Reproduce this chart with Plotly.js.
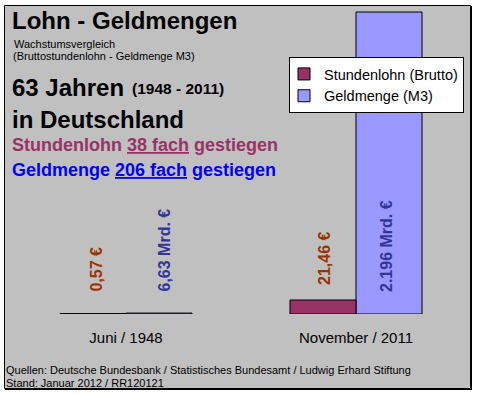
<!DOCTYPE html>
<html><head><meta charset="utf-8">
<script src="https://cdn.plot.ly/plotly-3.0.1.min.js"></script>
<style>html,body{margin:0;padding:0;background:#fff}</style>
</head><body><div id="chart" style="width:477px;height:395px"></div>
<script>
// ---- data ----
const categories = ["Juni / 1948", "November / 2011"];
const stundenlohn = [0.57, 21.46];          // € per hour
const geldmenge = [6.63, 2196];             // Mrd. €
const stundenlohnLabels = ["0,57 €", "21,46 €"];
const geldmengeLabels = ["6,63 Mrd. €", "2.196 Mrd. €"];
const seriesNames = ["Stundenlohn (Brutto)", "Geldmenge (M3)"];

// ---- geometry helpers (pixel -> paper) ----
const W = 477, H = 395;
const L = 11, R = 6, T = 10, B = 81;
const PW = W - L - R, PH = H - T - B;
const px = x => (x - L) / PW;
const py = y => (H - B - y) / PH;

const FONT = "Liberation Sans, Arial, sans-serif";
const barW = 0.287;

const traces = [
  {type: "bar", name: seriesNames[0], legendgroup: "s", x: categories, y: stundenlohn, yaxis: "y2",
   width: barW, offset: -barW,
   marker: {color: "#993366", line: {color: "#000", width: 1}},
   hoverinfo: "skip"},
  {type: "bar", name: seriesNames[1], legendgroup: "g", x: categories, y: geldmenge, yaxis: "y",
   width: barW, offset: 0,
   marker: {color: "#9999ff", line: {color: "#000", width: 1}},
   hoverinfo: "skip"}
];

// scale so bars use the plot height like the reference
const gMax = geldmenge[1] * PH / 302;
const sMax = stundenlohn[1] * PH / 14;

function txt(text, x, y, size, opts) {
  return Object.assign({xref: "paper", yref: "paper", x: px(x), y: py(y), text: text,
    showarrow: false, xanchor: "left", yanchor: "middle",
    font: {family: FONT, size: size, color: "#000"}}, opts || {});
}

const annotations = [
  txt("<b>Lohn - Geldmengen</b>", 10, 20.5, 24),
  txt("Wachstumsvergleich", 12, 43.5, 11),
  txt("(Bruttostundenlohn - Geldmenge M3)", 11, 56, 11),
  txt("<b>63 Jahren</b>", 10, 87, 24),
  txt("<b>(1948 - 2011)</b>", 130, 89, 15.5),
  txt("<b>in Deutschland</b>", 10, 119, 24),
  txt("<b>Stundenlohn <u>38 fach</u> gestiegen</b>", 10, 145, 18, {font: {family: FONT, size: 18, color: "#993366"}}),
  txt("<b>Geldmenge <u>206 fach</u> gestiegen</b>", 10, 170, 18, {font: {family: FONT, size: 18, color: "#0000ff"}}),
  txt("Quellen: Deutsche Bundesbank / Statistisches Bundesamt / Ludwig Erhard Stiftung", 4, 370, 11),
  txt("Stand: Januar 2012 / RR120121", 4, 383, 11)
];

// value labels (rotated)
const sLabY = [269.5, 258.5], gLabY = [250.5, 246.5];
const sShift = [-30, -31.5], gShift = [38, 30.5];
categories.forEach((c, i) => {
  annotations.push({xref: "x", yref: "paper", x: c, xshift: sShift[i], y: py(sLabY[i]),
    text: "<b>" + stundenlohnLabels[i] + "</b>", textangle: -90, showarrow: false,
    xanchor: "center", yanchor: "middle", font: {family: FONT, size: 16, color: "#993300"}});
  annotations.push({xref: "x", yref: "paper", x: c, xshift: gShift[i], y: py(gLabY[i]),
    text: "<b>" + geldmengeLabels[i] + "</b>", textangle: -90, showarrow: false,
    xanchor: "center", yanchor: "middle", font: {family: FONT, size: 16, color: "#333399"}});
});

const shapes = [
  {type: "rect", xref: "paper", yref: "paper", layer: "below",
   x0: px(4.5), x1: px(470.5), y0: py(5.5), y1: py(388.5),
   fillcolor: "#c0c0c0", line: {color: "#000", width: 1}},
  {type: "line", xref: "paper", yref: "paper", x0: px(471.5), x1: px(471.5), y0: py(6), y1: py(390),
   line: {color: "#000", width: 1}},
  {type: "line", xref: "paper", yref: "paper", x0: px(5), x1: px(472), y0: py(389.5), y1: py(389.5),
   line: {color: "#000", width: 1}}
];

const layout = {
  width: W, height: H,
  margin: {l: L, r: R, t: T, b: B, pad: 0, autoexpand: false},
  paper_bgcolor: "#ffffff", plot_bgcolor: "rgba(0,0,0,0)",
  barmode: "group",
  showlegend: true,
  legend: {x: px(289), y: py(57), xanchor: "left", yanchor: "top",
    bgcolor: "#ffffff", bordercolor: "#000", borderwidth: 1, indentation: -6,
    tracegroupgap: 5,
    font: {family: FONT, size: 14.5, color: "#000"}, traceorder: "normal"},
  xaxis: {type: "category", range: [-0.5, 1.5], showgrid: false, zeroline: false,
    showline: false, ticks: "", ticklabelstandoff: 13,
    tickfont: {family: FONT, size: 15, color: "#000"}, fixedrange: true},
  yaxis: {range: [0, gMax], showgrid: false, zeroline: false, showticklabels: false,
    showline: false, fixedrange: true},
  yaxis2: {range: [0, sMax], overlaying: "y", showgrid: false, zeroline: false,
    showticklabels: false, showline: false, fixedrange: true},
  annotations: annotations,
  shapes: shapes
};

Plotly.newPlot("chart", traces, layout, {displayModeBar: false, staticPlot: true});
</script>
</body></html>
